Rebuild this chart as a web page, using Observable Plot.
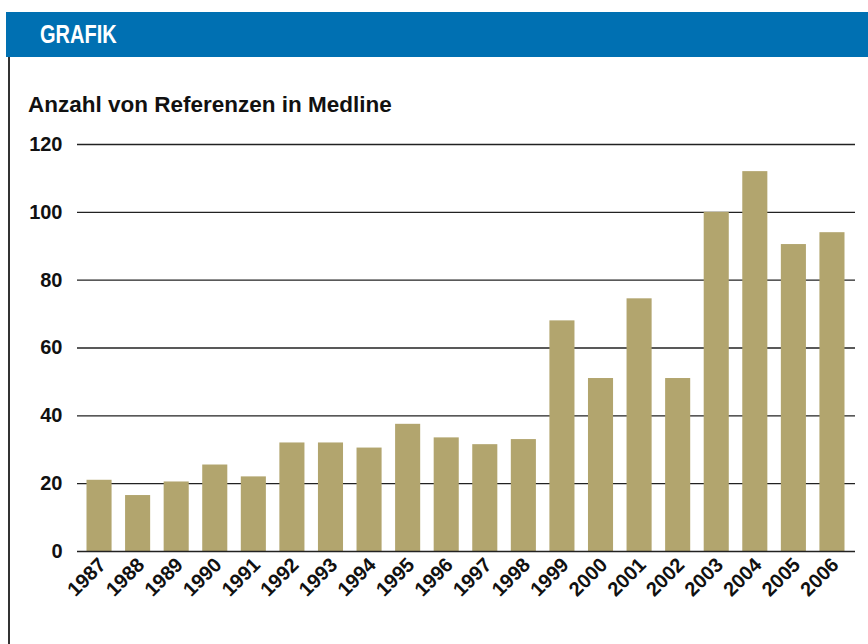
<!DOCTYPE html>
<html>
<head>
<meta charset="utf-8">
<script src="https://cdn.jsdelivr.net/npm/d3@7"></script>
<script src="https://cdn.jsdelivr.net/npm/@observablehq/plot@0.6"></script>
<style>
  html, body { margin: 0; padding: 0; background: #fff; width: 868px; height: 644px; overflow: hidden; }
  #header { position: absolute; left: 6px; top: 12px; width: 862px; height: 45px; background: #0070b2; }
  #header span { position: absolute; left: 34px; top: 10px; font: bold 25px "Liberation Sans", Arial, sans-serif; color: #fff; transform: scaleX(0.8); transform-origin: left top; line-height: 1; }
  #border { position: absolute; left: 8px; top: 57px; width: 2px; height: 587px; background: #333; }
  #title { position: absolute; left: 28px; top: 92px; font: bold 22.5px "Liberation Sans", Arial, sans-serif; color: #111; line-height: 1.15; white-space: nowrap; }
  #chart { position: absolute; left: 0; top: 130px; }
</style>
</head>
<body>
<div id="header"><span>GRAFIK</span></div>
<div id="border"></div>
<div id="title">Anzahl von Referenzen in Medline</div>
<div id="chart"></div>
<script>
const years = ["1987","1988","1989","1990","1991","1992","1993","1994","1995","1996",
               "1997","1998","1999","2000","2001","2002","2003","2004","2005","2006"];
const counts = [21, 16.5, 20.5, 25.5, 22, 32, 32, 30.5, 37.5, 33.5,
                31.5, 33, 68, 51, 74.5, 51, 100, 112, 90.5, 94];
const yTicks = [0, 20, 40, 60, 80, 100, 120];

const data = years.map((y, i) => ({year: y, count: counts[i]}));

const chart = Plot.plot({
  width: 868,
  height: 511,
  marginTop: 14,
  marginBottom: 90,
  marginLeft: 73,
  marginRight: 10,
  x: {domain: years, padding: 0.35, round: false, label: null},
  y: {domain: [0, 120], label: null},
  style: {fontFamily: "'Liberation Sans', Arial, sans-serif", fontWeight: "bold", fontSize: "20px", color: "#111", background: "transparent"},
  marks: [
    Plot.ruleY(yTicks.filter(d => d > 0), {stroke: "#222", strokeWidth: 1.4, insetLeft: 4, insetRight: 3}),
    Plot.barY(data, {x: "year", y: "count", fill: "#b2a56e"}),
    Plot.ruleY([0], {stroke: "#222", strokeWidth: 1.6, insetLeft: 4, insetRight: 3}),
    Plot.axisY({ticks: yTicks, tickSize: 0, tickPadding: 11, label: null}),
    Plot.axisX({tickSize: 0, tickRotate: -45, tickPadding: 10, dx: 3, label: null})
  ]
});
document.getElementById("chart").appendChild(chart);
</script>
</body>
</html>
